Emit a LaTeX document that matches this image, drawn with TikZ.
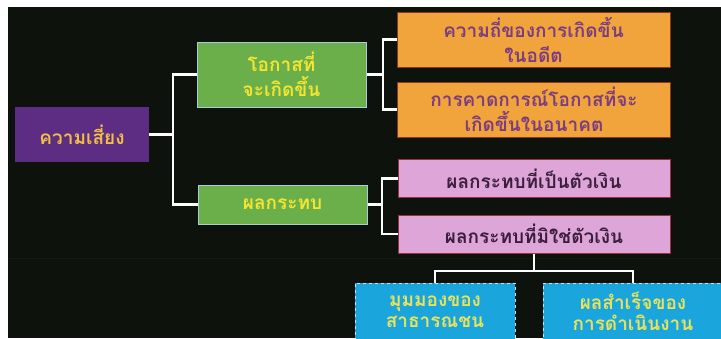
\documentclass[tikz,border=0pt]{standalone}
\usepackage{fontspec}
\newfontfamily\thaifont[Script=Thai]{Loma}
\definecolor{bgblack}{HTML}{0E120D}
\definecolor{purplefill}{HTML}{5C2D82}
\definecolor{purpletext}{HTML}{F2BE45}
\definecolor{greenfill}{HTML}{6BAF4A}
\definecolor{greenline}{HTML}{A9CBDC}
\definecolor{greentext}{HTML}{F4E531}
\definecolor{orangefill}{HTML}{F2A43C}
\definecolor{orangeline}{HTML}{8A3A20}
\definecolor{orangetext}{HTML}{7A3D80}
\definecolor{pinkfill}{HTML}{DEA6D8}
\definecolor{pinkline}{HTML}{9A3040}
\definecolor{pinktext}{HTML}{3B1E3C}
\definecolor{bluefill}{HTML}{1BA5DD}
\definecolor{blueline}{HTML}{BFE6F5}
\definecolor{bluetext}{HTML}{E8E35A}
\definecolor{seam}{HTML}{1A1A12}
\begin{document}
\begin{tikzpicture}[x=1pt,y=-1pt,
  box/.style={rectangle,inner sep=0pt,align=center,font=\thaifont\bfseries\fontsize{19}{25}\selectfont},
  riskbox/.style={box,fill=purplefill,text=purpletext,minimum width=134pt,minimum height=55pt},
  greenbox/.style={box,fill=greenfill,draw=greenline,line width=1pt,text=greentext,minimum width=169pt},
  orangebox/.style={box,fill=orangefill,draw=orangeline,line width=1pt,text=orangetext,minimum width=273pt,minimum height=55pt},
  pinkbox/.style={box,fill=pinkfill,draw=pinkline,line width=1pt,text=pinktext,minimum width=272pt,minimum height=38pt},
  bluebox/.style={box,fill=bluefill,draw=blueline,line width=0.8pt,dashed,text=bluetext,minimum height=57pt,font=\thaifont\bfseries\fontsize{19}{21}\selectfont},
  link/.style={draw=white,line width=2.8pt}]
\useasboundingbox (0,0) rectangle (721,338);
\fill[white] (0,0) rectangle (721,338);
\fill[bgblack] (8,7) rectangle (721,338);
\draw[seam,line width=0.5pt] (8,258) -- (721,258);

\node[riskbox] (risk) at (82,134.5) {ความเสี่ยง};
\node[greenbox,minimum height=65pt] (chance) at (281.5,74.5) {โอกาสที่\\จะเกิดขึ้น};
\node[greenbox,minimum height=39pt] (impact) at (282.5,204.5) {ผลกระทบ};
\node[orangebox] (past) at (533.5,39.5) {ความถี่ของการเกิดขึ้น\\ในอดีต};
\node[orangebox] (future) at (534,109.5) {การคาดการณ์โอกาสที่จะ\\เกิดขึ้นในอนาคต};
\node[pinkbox] (money) at (534,178.5) {ผลกระทบที่เป็นตัวเงิน};
\node[pinkbox] (nonmoney) at (534,234) {ผลกระทบที่มิใช่ตัวเงิน};
\node[bluebox,minimum width=160pt] (public) at (435,311.5) {มุมมองของ\\สาธารณชน};
\node[bluebox,minimum width=180pt] (perform) at (633,311.5) {ผลสำเร็จของ\\การดำเนินงาน};

\coordinate (j1) at (173,134.5);
\coordinate (j2) at (383,74.5);
\coordinate (j3) at (382,204.5);
\coordinate (j4) at (534,271);

\path[link] (risk.east) -- (j1);
\path[link] (chance.west) -| (j1) |- (impact.west);
\path[link] (chance.east) -- (j2);
\path[link] (past.west) -| (j2) |- (future.west);
\path[link] (impact.east) -- (j3);
\path[link] (money.west) -| (j3) |- (nonmoney.west);
\path[link] (nonmoney.south) -- (j4);
\path[link] (public.north) |- (j4) -| (perform.north);
\end{tikzpicture}
\end{document}
